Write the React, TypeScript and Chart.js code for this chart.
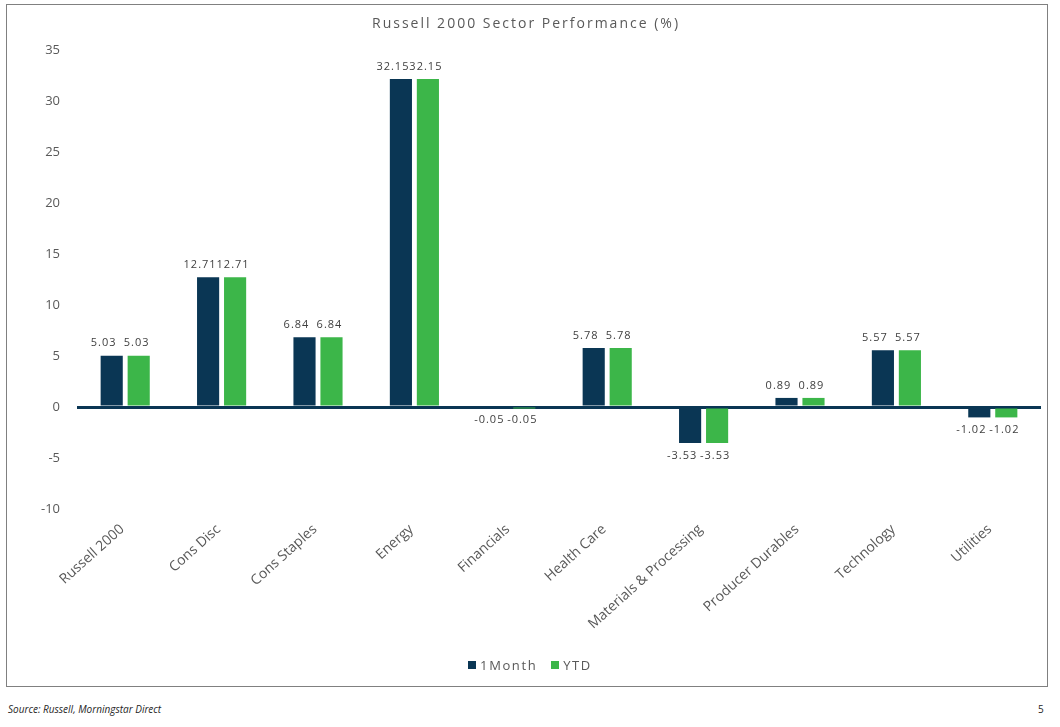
import React, { useEffect, useRef } from "react";
import { Chart, registerables } from "chart.js";

Chart.register(...registerables);

const categories = [
  "Russell 2000",
  "Cons Disc",
  "Cons Staples",
  "Energy",
  "Financials",
  "Health Care",
  "Materials & Processing",
  "Producer Durables",
  "Technology",
  "Utilities",
];
const oneMonth = [5.03, 12.71, 6.84, 32.15, -0.05, 5.78, -3.53, 0.89, 5.57, -1.02];
const ytd = [5.03, 12.71, 6.84, 32.15, -0.05, 5.78, -3.53, 0.89, 5.57, -1.02];
const seriesNames = ["1Month", "YTD"];
const seriesColors = ["#0A3654", "#3CB649"];
const yMin = -10;
const yMax = 35;
const yStep = 5;
const titleText = "Russell 2000 Sector Performance (%)";
const sourceText = "Source: Russell, Morningstar Direct";
const pageNumber = "5";

const valueLabels = {
  id: "valueLabels",
  afterDatasetsDraw(chart: any) {
    const ctx = chart.ctx as CanvasRenderingContext2D;
    ctx.save();
    ctx.font = "11px 'Open Sans'";
    ctx.fillStyle = "#404040";
    (ctx as any).letterSpacing = "1px";
    ctx.textAlign = "center";
    chart.data.datasets.forEach((ds: any, di: number) => {
      const meta = chart.getDatasetMeta(di);
      const dx = di === 0 ? -8 : -2;
      meta.data.forEach((el: any, i: number) => {
        const v = ds.data[i] as number;
        const text = v.toFixed(2);
        if (v >= 0) {
          ctx.textBaseline = "bottom";
          ctx.fillText(text, el.x + dx, el.y - 7);
        } else {
          ctx.textBaseline = "top";
          ctx.fillText(text, el.x + dx, el.y + 7);
        }
      });
    });
    ctx.restore();
  },
};

function SectorChart() {
  const ref = useRef<HTMLCanvasElement | null>(null);
  useEffect(() => {
    if (!ref.current) return;
    const chart = new Chart(ref.current, {
      type: "bar",
      data: {
        labels: categories,
        datasets: [
          {
            label: seriesNames[0],
            data: oneMonth,
            backgroundColor: seriesColors[0],
            barPercentage: 0.82,
            categoryPercentage: 0.56,
          },
          {
            label: seriesNames[1],
            data: ytd,
            backgroundColor: seriesColors[1],
            barPercentage: 0.82,
            categoryPercentage: 0.56,
          },
        ],
      },
      options: {
        responsive: false,
        animation: false,
        layout: { padding: { left: 10, right: 6, top: 45, bottom: 0 } },
        plugins: {
          legend: { display: false },
          title: { display: false },
          tooltip: { enabled: false },
        },
        scales: {
          x: {
            grid: { display: false, drawTicks: false },
            border: { display: false },
            ticks: {
              minRotation: 42,
              maxRotation: 42,
              padding: 12,
              labelOffset: -3,
              color: "#595959",
              font: { family: "'Open Sans'", size: 14 },
              autoSkip: false,
            },
            afterFit: (s: any) => {
              s.height = 177;
            },
          },
          y: {
            min: yMin,
            max: yMax,
            grid: {
              drawTicks: false,
              color: (c: any) => (c.tick && c.tick.value === 0 ? seriesColors[0] : "rgba(0,0,0,0)"),
              lineWidth: (c: any) => (c.tick && c.tick.value === 0 ? 3 : 0),
            },
            border: { display: false },
            ticks: {
              stepSize: yStep,
              padding: 17,
              color: "#595959",
              font: { family: "'Open Sans'", size: 13 },
            },
            afterFit: (s: any) => {
              s.width = 60;
            },
          },
        },
      },
      plugins: [valueLabels],
    });
    return () => chart.destroy();
  }, []);
  return (
    <canvas
      ref={ref}
      width={1040}
      height={681}
      style={{ position: "absolute", left: 7, top: 5, width: 1040, height: 681 }}
    />
  );
}

export default function App() {
  return (
    <div
      style={{
        position: "absolute",
        left: 0,
        top: 0,
        width: 1060,
        height: 727,
        background: "#ffffff",
        fontFamily: "'Open Sans', sans-serif",
        overflow: "hidden",
      }}
    >
      <div
        style={{
          position: "absolute",
          left: 6,
          top: 4,
          width: 1040,
          height: 681,
          border: "1px solid #808080",
        }}
      />
      <SectorChart />
      <div
        style={{
          position: "absolute",
          left: 0,
          top: 13,
          width: 1052,
          textAlign: "center",
          fontSize: 14,
          letterSpacing: "2px",
          color: "#595959",
          lineHeight: "20px",
        }}
      >
        {titleText}
      </div>
      <div
        style={{
          position: "absolute",
          left: 0,
          top: 655,
          width: 1060,
          display: "flex",
          justifyContent: "center",
          alignItems: "center",
          fontSize: 13,
          letterSpacing: "1.6px",
          color: "#595959",
          lineHeight: "20px",
        }}
      >
        {seriesNames.map((n, i) => (
          <div key={n} style={{ display: "flex", alignItems: "center", marginRight: i === 0 ? 14 : 0 }}>
            <span
              style={{
                display: "inline-block",
                width: 8,
                height: 8,
                background: seriesColors[i],
                marginRight: 4,
              }}
            />
            <span>{n}</span>
          </div>
        ))}
      </div>
      <div
        style={{
          position: "absolute",
          left: 8,
          top: 701,
          fontSize: 10,
          fontStyle: "italic",
          color: "#262626",
          lineHeight: "16px",
        }}
      >
        {sourceText}
      </div>
      <div
        style={{
          position: "absolute",
          left: 1038,
          top: 701,
          fontSize: 10,
          color: "#262626",
          lineHeight: "16px",
        }}
      >
        {pageNumber}
      </div>
    </div>
  );
}
